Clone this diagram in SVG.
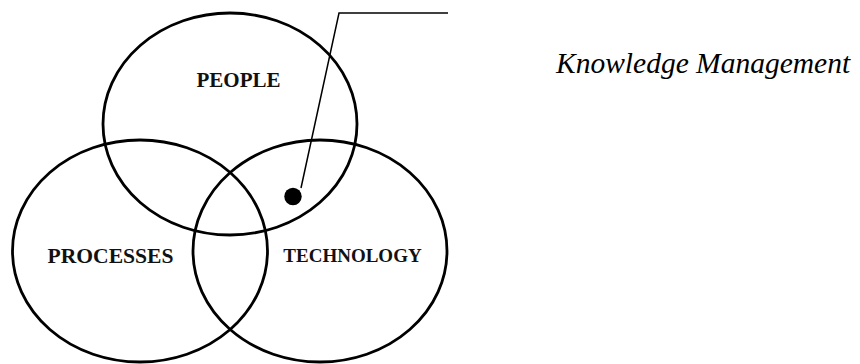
<svg xmlns="http://www.w3.org/2000/svg" width="860" height="364" viewBox="0 0 860 364">
<style>
.set{fill:none;stroke:#000;stroke-width:2.8}
.lbl{font-family:"Liberation Serif","Times New Roman",serif;font-weight:bold;fill:#111;text-anchor:middle}
.lead{fill:none;stroke:#000;stroke-width:1.5}
.km{font-family:"Liberation Serif","Times New Roman",serif;font-style:italic;font-size:29.5px;fill:#000}
</style>
<rect width="860" height="364" fill="#fff"/>
<g id="people">
<ellipse class="set" cx="230" cy="124" rx="127" ry="111"/>
<text class="lbl" x="238.5" y="87" font-size="21">PEOPLE</text>
</g>
<g id="processes">
<ellipse class="set" cx="140" cy="251" rx="127.5" ry="111"/>
<text class="lbl" x="110.5" y="263" font-size="21.6">PROCESSES</text>
</g>
<g id="technology">
<ellipse class="set" cx="320" cy="251" rx="127" ry="111"/>
<text class="lbl" x="352.5" y="262" font-size="19">TECHNOLOGY</text>
</g>
<g id="connectors">
<polyline class="lead" points="301,188 339,13 448,13"/>
</g>
<g id="knowledge-management">
<circle cx="293" cy="196.5" r="8.7" fill="#000"/>
<text class="km" x="556" y="73">Knowledge Management</text>
</g>
</svg>
